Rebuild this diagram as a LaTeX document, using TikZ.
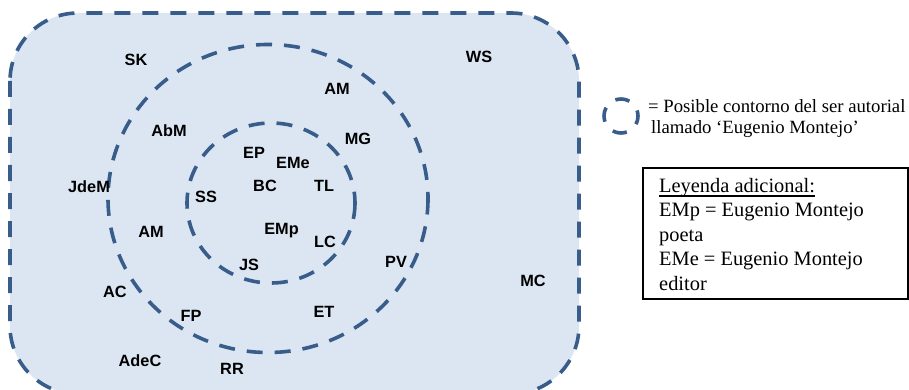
\documentclass[tikz,border=0pt]{standalone}
\usepackage{fontspec}
\setmainfont{Liberation Serif}
\newfontfamily\etiqfont{Liberation Sans}
\definecolor{azulborde}{HTML}{385D8A}
\definecolor{azulfondo}{HTML}{DCE6F2}
% subrayado como en el original
\newcommand\subrayar[1]{\setbox0\hbox{#1}\rlap{\rule[-5pt]{\wd0}{1.8pt}}\box0}

\begin{document}
\begin{tikzpicture}[x=1pt, y=-1pt,
    contorno/.style={draw=azulborde, line width=3.6pt, dash pattern=on 16pt off 12pt},
    autor/.style={font=\etiqfont\bfseries\fontsize{16.3}{19}\selectfont, anchor=base, inner sep=0pt},
    leyenda/.style={font=\fontsize{18.7}{21.5}\selectfont, anchor=base west, inner sep=0pt},
    caja/.style={font=\fontsize{20.4}{24.5}\selectfont, anchor=base west, inner sep=0pt}]
        \useasboundingbox (0,0) rectangle (909,390);
        \clip (0,0) rectangle (909,390);

        % Contornos
        \draw[contorno, fill=azulfondo, rounded corners=68pt] (10,13) rectangle (579,394);
        \draw[contorno] (268,198.5) ellipse [x radius=160, y radius=154];
        \draw[contorno] (271,203) ellipse [x radius=84, y radius=80];

        % Autores
        \node (sk) [autor] at (136,66) {SK};
        \node (ws) [autor] at (479,63) {WS};
        \node (am1) [autor] at (337,95) {AM};
        \node (abm) [autor] at (169,137) {AbM};
        \node (mg) [autor] at (358,145) {MG};
        \node (ep) [autor] at (254,159) {EP};
        \node (eme) [autor] at (293,168) {EMe};
        \node (jdem) [autor] at (89,192) {JdeM};
        \node (bc) [autor] at (265,191) {BC};
        \node (tl) [autor] at (324,191) {TL};
        \node (ss) [autor] at (206,202) {SS};
        \node (am2) [autor] at (151,237) {AM};
        \node (emp) [autor] at (281.5,234) {EMp};
        \node (lc) [autor] at (325,247) {LC};
        \node (js) [autor] at (249,270) {JS};
        \node (pv) [autor] at (396,267) {PV};
        \node (mc) [autor] at (533,286) {MC};
        \node (ac) [autor] at (115,297) {AC};
        \node (fp) [autor] at (191,321) {FP};
        \node (et) [autor] at (324,317) {ET};
        \node (adec) [autor] at (140,366) {AdeC};
        \node (rr) [autor] at (232,374) {RR};

        % Leyenda
        \draw[contorno, dash pattern=on 14.5pt off 12.25pt, dash phase=6pt] (621,116) circle [radius=17];
        \node (posible) [leyenda] at (648,113) {= Posible contorno del ser autorial};
        \node (llamado) [leyenda] at (651,134) {llamado ‘Eugenio Montejo’};

        \draw[line width=2pt] (643,168) rectangle (907.5,299);
        \node (titulo) [caja] at (659,192) {\subrayar{Leyenda adicional:}};
        \node (emp1) [caja] at (659,216.5) {EMp = Eugenio Montejo};
        \node (emp2) [caja] at (659,241) {poeta};
        \node (eme1) [caja] at (659,265.5) {EMe = Eugenio Montejo};
        \node (eme2) [caja] at (659,290) {editor};
    \end{tikzpicture}
\end{document}
